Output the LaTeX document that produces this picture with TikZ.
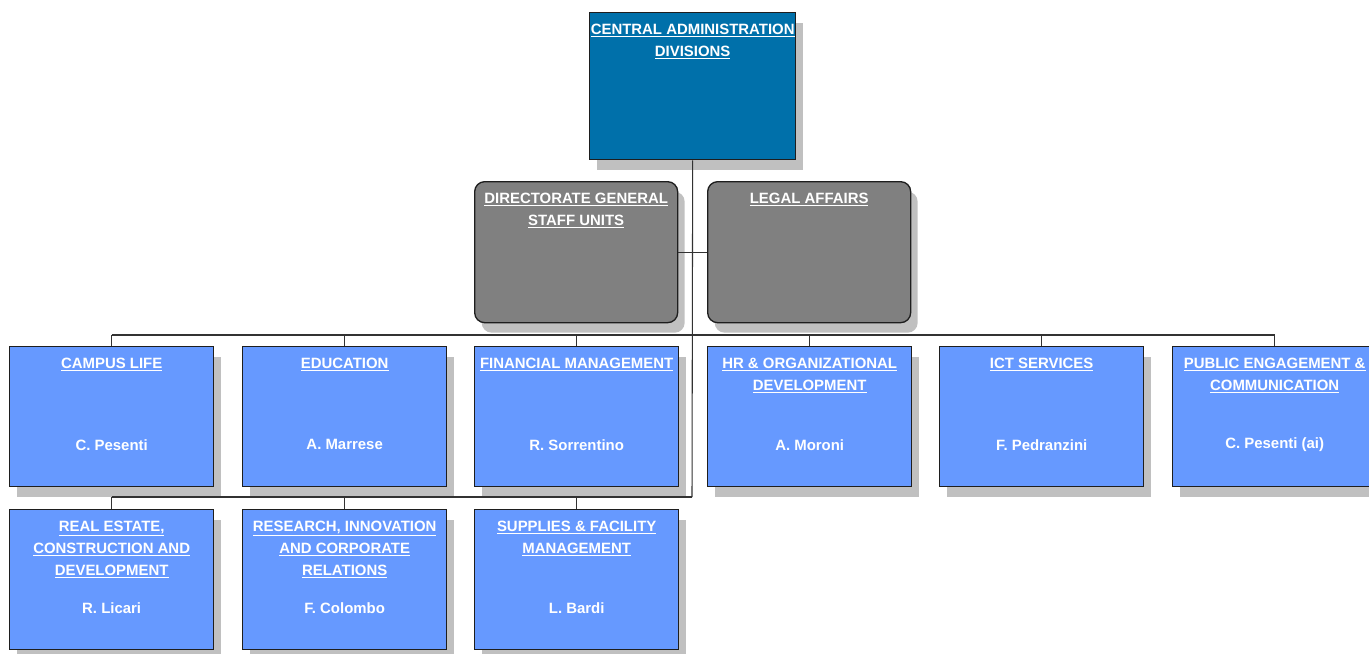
\documentclass[tikz,border=0pt]{standalone}
\usepackage{fontspec}
\setmainfont{Liberation Sans}
\usetikzlibrary{shadows}

\definecolor{cadblue}{RGB}{0,112,170}
\definecolor{divblue}{RGB}{102,153,255}
\definecolor{staffgray}{RGB}{128,128,128}
\definecolor{shadowgray}{RGB}{192,192,192}
\definecolor{edgegray}{RGB}{30,30,30}
\definecolor{linkgray}{RGB}{50,50,50}

\begin{document}
\begin{tikzpicture}[x=0.75pt, y=-0.75pt,
	box/.style={draw=edgegray, line width=1pt, anchor=north west, inner sep=0pt,
		minimum width=153pt, minimum height=105pt,
		drop shadow={shadow xshift=5.25pt, shadow yshift=-7.5pt, fill=shadowgray, opacity=1}},
	division/.style={box, fill=divblue},
	topbox/.style={box, fill=cadblue, minimum width=154.5pt, minimum height=110.25pt},
	staffbox/.style={box, fill=staffgray, rounded corners=7.5pt, minimum width=152.25pt, minimum height=105.75pt},
	ttl/.style={anchor=north, yshift=-8.8pt, inner sep=0pt, align=center, text=white,
		font=\fontsize{11.2pt}{16.5pt}\selectfont\bfseries},
	who/.style={yshift=-21pt, inner sep=0pt, text=white,
		font=\fontsize{11.2pt}{16.5pt}\selectfont\bfseries},
	link/.style={draw=linkgray, line width=0.8pt}]
	\useasboundingbox (0, 0) rectangle (1369, 653);

	\node[topbox] (cad) at (589, 12) {};
	\node[ttl] at (cad.north) {\underline{CENTRAL ADMINISTRATION}\\\underline{DIVISIONS}};

	\node[staffbox] (dgsu) at (474, 181) {};
	\node[ttl] at (dgsu.north) {\underline{DIRECTORATE GENERAL}\\\underline{STAFF UNITS}};
	\node[staffbox] (legal) at (707, 181) {};
	\node[ttl] at (legal.north) {\underline{LEGAL AFFAIRS}};

	\node[division, label={[ttl]north:{\underline{CAMPUS LIFE}}}, label={[who]center:C. Pesenti}] (campus) at (9, 346) {};
	\node[division, label={[ttl]north:{\underline{EDUCATION}}}, label={[who]center:A. Marrese}] (edu) at (242, 346) {};
	\node[division, label={[ttl]north:{\underline{FINANCIAL MANAGEMENT}}}, label={[who]center:R. Sorrentino}] (fin) at (474, 346) {};
	\node[division, label={[ttl]north:{\underline{HR \& ORGANIZATIONAL}\\\underline{DEVELOPMENT}}}, label={[who]center:A. Moroni}] (hr) at (707, 346) {};
	\node[division, label={[ttl]north:{\underline{ICT SERVICES}}}, label={[who]center:F. Pedranzini}] (ict) at (939, 346) {};
	\node[division, label={[ttl]north:{\underline{PUBLIC ENGAGEMENT \&}\\\underline{COMMUNICATION}}}, label={[who]center:C. Pesenti (ai)}] (pub) at (1172, 346) {};

	\node[division, label={[ttl]north:{\underline{REAL ESTATE,}\\\underline{CONSTRUCTION AND}\\\underline{DEVELOPMENT}}}, label={[who]center:R. Licari}] (realestate) at (9, 509) {};
	\node[division, label={[ttl]north:{\underline{RESEARCH, INNOVATION}\\\underline{AND CORPORATE}\\\underline{RELATIONS}}}, label={[who]center:F. Colombo}] (research) at (242, 509) {};
	\node[division, label={[ttl]north:{\underline{SUPPLIES \& FACILITY}\\\underline{MANAGEMENT}}}, label={[who]center:L. Bardi}] (supplies) at (474, 509) {};

	\coordinate (bus1) at (692, 335);
	\coordinate (bus2) at (692, 497);

	\draw[link] (cad.south) -- (bus2);
	\draw[link] (dgsu.east) -- (legal.west);
	\draw[link] (bus1 -| campus.north) -- (bus1 -| pub.north);
	\foreach \n in {campus, edu, fin, hr, ict, pub}
		\draw[link] (bus1 -| \n.north) -- (\n.north);
	\draw[link] (bus2 -| realestate.north) -- (bus2);
	\foreach \n in {realestate, research, supplies}
		\draw[link] (bus2 -| \n.north) -- (\n.north);
\end{tikzpicture}
\end{document}
